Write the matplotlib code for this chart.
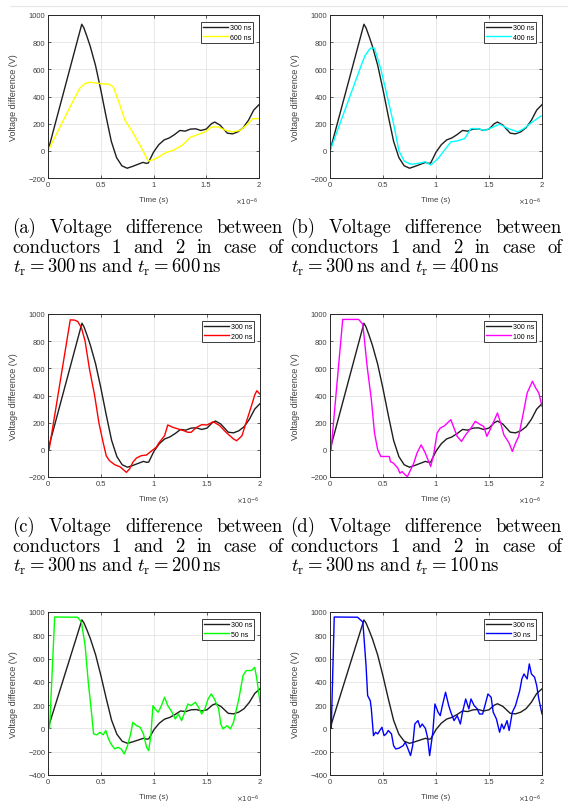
import matplotlib
matplotlib.use("Agg")
import matplotlib.pyplot as plt
from matplotlib.ticker import FuncFormatter
from matplotlib.lines import Line2D

W, H = 568, 803

# reference pulse, rise time 300 ns (time in microseconds, voltage in V)
t_300 = [0, 0.32, 0.34, 0.37, 0.40, 0.45, 0.50, 0.55, 0.60, 0.65, 0.70, 0.75, 0.80, 0.85, 0.90, 0.93,
         0.95, 1.00, 1.05, 1.10, 1.15, 1.20, 1.25, 1.30, 1.35, 1.40, 1.45, 1.50, 1.55, 1.58, 1.63, 1.70,
         1.75, 1.80, 1.85, 1.90, 1.95, 2.00]
v_300 = [0, 932, 905, 840, 770, 630, 450, 255, 70, -50, -110, -128, -115, -100, -85, -92,
         -90, -10, 45, 80, 95, 120, 150, 145, 160, 162, 150, 160, 200, 212, 190, 130,
         125, 140, 170, 225, 300, 340]

t_600 = [0, 0.10, 0.20, 0.30, 0.35, 0.40, 0.50, 0.58, 0.62, 0.68, 0.73, 0.80, 0.88, 0.95, 1.00, 1.05,
         1.12, 1.19, 1.27, 1.35, 1.44, 1.49, 1.55, 1.61, 1.69, 1.75, 1.82, 1.88, 1.94, 2.00]
v_600 = [0, 155, 310, 460, 495, 505, 495, 490, 470, 340, 225, 140, 30, -75, -65, -45,
         -12, 5, 40, 100, 125, 140, 176, 176, 150, 140, 150, 188, 237, 237]

t_400 = [0, 0.30, 0.33, 0.37, 0.39, 0.42, 0.48, 0.54, 0.60, 0.65, 0.70, 0.75, 0.78, 0.86, 0.90, 0.95,
         1.02, 1.08, 1.14, 1.20, 1.27, 1.33, 1.39, 1.46, 1.52, 1.60, 1.68, 1.77, 1.83, 1.91, 1.99, 2.00]
v_400 = [0, 640, 700, 745, 758, 755, 600, 400, 200, 0, -75, -95, -98, -88, -80, -105,
         -56, 5, 66, 73, 90, 164, 164, 150, 169, 196, 164, 140, 164, 213, 256, 255]

t_200 = [0, 0.01, 0.21, 0.25, 0.28, 0.315, 0.35, 0.39, 0.44, 0.48, 0.52, 0.55, 0.58, 0.63, 0.68, 0.74,
         0.77, 0.80, 0.835, 0.88, 0.93, 0.98, 1.02, 1.05, 1.10, 1.13, 1.18, 1.23, 1.28, 1.32, 1.35, 1.40,
         1.45, 1.50, 1.56, 1.62, 1.68, 1.75, 1.78, 1.83, 1.87, 1.92, 1.95, 1.97, 2.00]
v_200 = [0, 0, 957, 955, 945, 900, 800, 600, 400, 200, 55, -45, -80, -110, -125, -166,
         -140, -92, -60, -43, -38, -6, 18, 55, 104, 183, 165, 153, 141, 129, 129, 165,
         185, 183, 207, 178, 129, 80, 67, 104, 203, 325, 403, 435, 410]

t_100 = [0, 0.01, 0.12, 0.27, 0.31, 0.35, 0.39, 0.42, 0.45, 0.48, 0.51, 0.56, 0.57, 0.60, 0.64, 0.66,
         0.68, 0.71, 0.73, 0.76, 0.79, 0.82, 0.86, 0.90, 0.95, 0.98, 1.01, 1.04, 1.08, 1.14, 1.17, 1.20,
         1.24, 1.28, 1.33, 1.37, 1.42, 1.45, 1.48, 1.51, 1.58, 1.61, 1.64, 1.69, 1.72, 1.75, 1.78, 1.83,
         1.86, 1.91, 1.94, 1.97, 2.00]
v_100 = [0, 0, 960, 960, 924, 616, 370, 123, 0, -49, -49, -49, -86, -99, -135, -172,
         -160, -185, -197, -148, -99, -25, 37, -25, -123, -25, 123, 160, 177, 222, 160, 99,
         62, 111, 160, 210, 185, 173, 99, 148, 271, 197, 111, 49, -12, 49, 99, 296,
         419, 505, 456, 419, 320]

t_50 = [0, 0.015, 0.063, 0.28, 0.315, 0.35, 0.38, 0.41, 0.43, 0.46, 0.49, 0.52, 0.545, 0.57, 0.60, 0.63,
        0.66, 0.69, 0.72, 0.75, 0.78, 0.80, 0.835, 0.87, 0.90, 0.93, 0.95, 0.97, 0.99, 1.01, 1.04, 1.07,
        1.10, 1.13, 1.17, 1.20, 1.23, 1.26, 1.29, 1.32, 1.35, 1.39, 1.42, 1.45, 1.48, 1.51, 1.54, 1.57,
        1.61, 1.63, 1.65, 1.69, 1.72, 1.75, 1.80, 1.84, 1.87, 1.92, 1.95, 1.97, 2.00]
v_50 = [0, 0, 957, 955, 914, 713, 397, 139, -47, -55, -33, -55, -18, -90, -141, -176,
        -162, -176, -219, -148, -47, 53, 24, 10, -47, -162, -191, -62, 196, 167, 139, 196,
        268, 196, 139, 81, 124, 67, 139, 210, 196, 225, 182, 124, 167, 253, 296, 253,
        167, 38, -4, 24, -4, 53, 253, 454, 497, 497, 525, 425, 225]

t_30 = [0, 0.012, 0.04, 0.26, 0.31, 0.34, 0.355, 0.38, 0.39, 0.41, 0.43, 0.45, 0.47, 0.49, 0.51, 0.53,
        0.55, 0.58, 0.60, 0.62, 0.65, 0.69, 0.71, 0.73, 0.76, 0.78, 0.80, 0.83, 0.85, 0.87, 0.90, 0.92,
        0.94, 0.97, 0.99, 1.02, 1.04, 1.06, 1.09, 1.12, 1.14, 1.17, 1.20, 1.23, 1.25, 1.28, 1.31, 1.33,
        1.36, 1.39, 1.41, 1.44, 1.47, 1.49, 1.52, 1.54, 1.57, 1.60, 1.62, 1.64, 1.67, 1.69, 1.72, 1.75,
        1.79, 1.81, 1.83, 1.86, 1.88, 1.90, 1.93, 1.95, 1.97, 2.00]
v_30 = [0, 0, 957, 955, 914, 540, 282, 238, 167, -62, -33, -47, -18, 10, -62, -47,
        -18, -47, -148, -176, -170, -148, -119, -162, -233, -148, 38, 67, 10, 38, 0, -76,
        -233, -33, 210, 139, 110, 196, 311, 196, 139, 67, 110, 38, 139, 253, 167, 253,
        196, 167, 124, 124, 225, 296, 268, 139, 81, -33, 38, -4, 67, -18, 139, 196,
        325, 425, 468, 425, 554, 468, 440, 368, 253, 124]

labels = ["600 ns", "400 ns", "200 ns", "100 ns", "50 ns", "30 ns"]
colors = ["#ffff00", "#00ffff", "#ff0000", "#ff00ff", "#00ff00", "#0000ff"]
series = [(t_600, v_600), (t_400, v_400), (t_200, v_200), (t_100, v_100), (t_50, v_50), (t_30, v_30)]
ylims = [(-200, 1000), (-200, 1000), (-200, 1000), (-200, 1000), (-400, 1000), (-400, 1000)]
captions = [("(a)", "600"), ("(b)", "400"), ("(c)", "200"), ("(d)", "100")]

# axes boxes in pixels: left, top, right, bottom
boxes = [(48, 16, 259, 179), (330, 16, 542, 179),
         (48, 315, 260, 478), (330, 315, 542, 478),
         (48, 613, 260, 776), (330, 613, 542, 776)]

plt.rcParams["font.family"] = ["Liberation Sans", "DejaVu Sans"]
fig = plt.figure(figsize=(W / 100, H / 100), dpi=100)
fig.add_artist(Line2D([10 / W, 1], [1 - 7 / H] * 2, color="#e6e6e6", lw=0.8,
                      transform=fig.transFigure))

gray = "#404040"
for i, (l, t, r, b) in enumerate(boxes):
    ax = fig.add_axes([l / W, 1 - b / H, (r - l) / W, (b - t) / H])
    tt, vv = series[i]
    ax.plot([x * 1e-6 for x in t_300], v_300, color="#1f1f1f", lw=1.0, label="300 ns")
    ax.plot([x * 1e-6 for x in tt], vv, color=colors[i], lw=1.0, label=labels[i])
    ax.set_xlim(0, 2e-6)
    ax.set_ylim(*ylims[i])
    ax.set_xticks([0, 0.5e-6, 1e-6, 1.5e-6, 2e-6])
    ax.set_yticks(range(ylims[i][0], 1001, 200))
    ax.xaxis.set_major_formatter(FuncFormatter(lambda v, p: f"{v * 1e6:g}"))
    ax.grid(True, color="#e4e4e4", lw=0.6)
    ax.set_axisbelow(True)
    for s in ax.spines.values():
        s.set_color("#262626")
        s.set_linewidth(0.7)
    ax.tick_params(direction="in", length=2.5, width=0.6, top=True, right=True,
                   labelsize=5.5, colors=gray, pad=2)
    ax.set_xlabel("Time (s)", fontsize=5.8, color=gray)
    ax.xaxis.set_label_coords(0.5, -22 / (b - t))
    ax.xaxis.label.set_va("center")
    ax.set_ylabel("Voltage difference (V)", fontsize=6.5, color=gray)
    ax.yaxis.set_label_coords(-29.5 / (r - l), 0.5)
    ax.text(1.0, -23 / (b - t), r"$\times10^{-6}$", transform=ax.transAxes, ha="right",
            va="center", fontsize=5, color=gray, math_fontfamily="dejavusans")
    leg = ax.legend(loc="upper right", bbox_to_anchor=(1 - 6 / (r - l), 1 - 7 / (b - t)),
                    fontsize=5, fancybox=False, edgecolor="#1f1f1f", framealpha=1,
                    handlelength=3.6, handletextpad=0.2, borderpad=0.3,
                    labelspacing=0.35, borderaxespad=0)
    leg.get_frame().set_linewidth(0.6)

# captions, justified like the LaTeX source
CAP_FS = 13.5
renderer = fig.canvas.get_renderer()


def justified(words, x0, x1, y):
    texts = [fig.text(0, y, w, fontsize=CAP_FS, family="cmr10", va="baseline") for w in words]
    widths = [tx.get_window_extent(renderer).width / W for tx in texts]
    gap = (x1 - x0 - sum(widths)) / (len(words) - 1)
    x = x0
    for tx, w in zip(texts, widths):
        tx.set_x(x)
        x += w + gap


cols = [(12, 283), (290, 562)]
rows = [233, 532]
for k, (tag, tr) in enumerate(captions):
    x0, x1 = cols[k % 2]
    y0 = rows[k // 2]
    justified([tag, "Voltage", "difference", "between"], x0 / W, x1 / W, 1 - y0 / H)
    justified(["conductors", "1", "and", "2", "in", "case", "of"], x0 / W, x1 / W, 1 - (y0 + 20) / H)
    fig.text(x0 / W + 1 / W, 1 - (y0 + 40) / H,
             r"$t_\mathrm{r} = 300\,\mathrm{ns}\ \mathrm{and}\ t_\mathrm{r} = " + tr + r"\,\mathrm{ns}$",
             fontsize=CAP_FS, va="baseline", math_fontfamily="cm")

fig.savefig("out.png", dpi=100)
